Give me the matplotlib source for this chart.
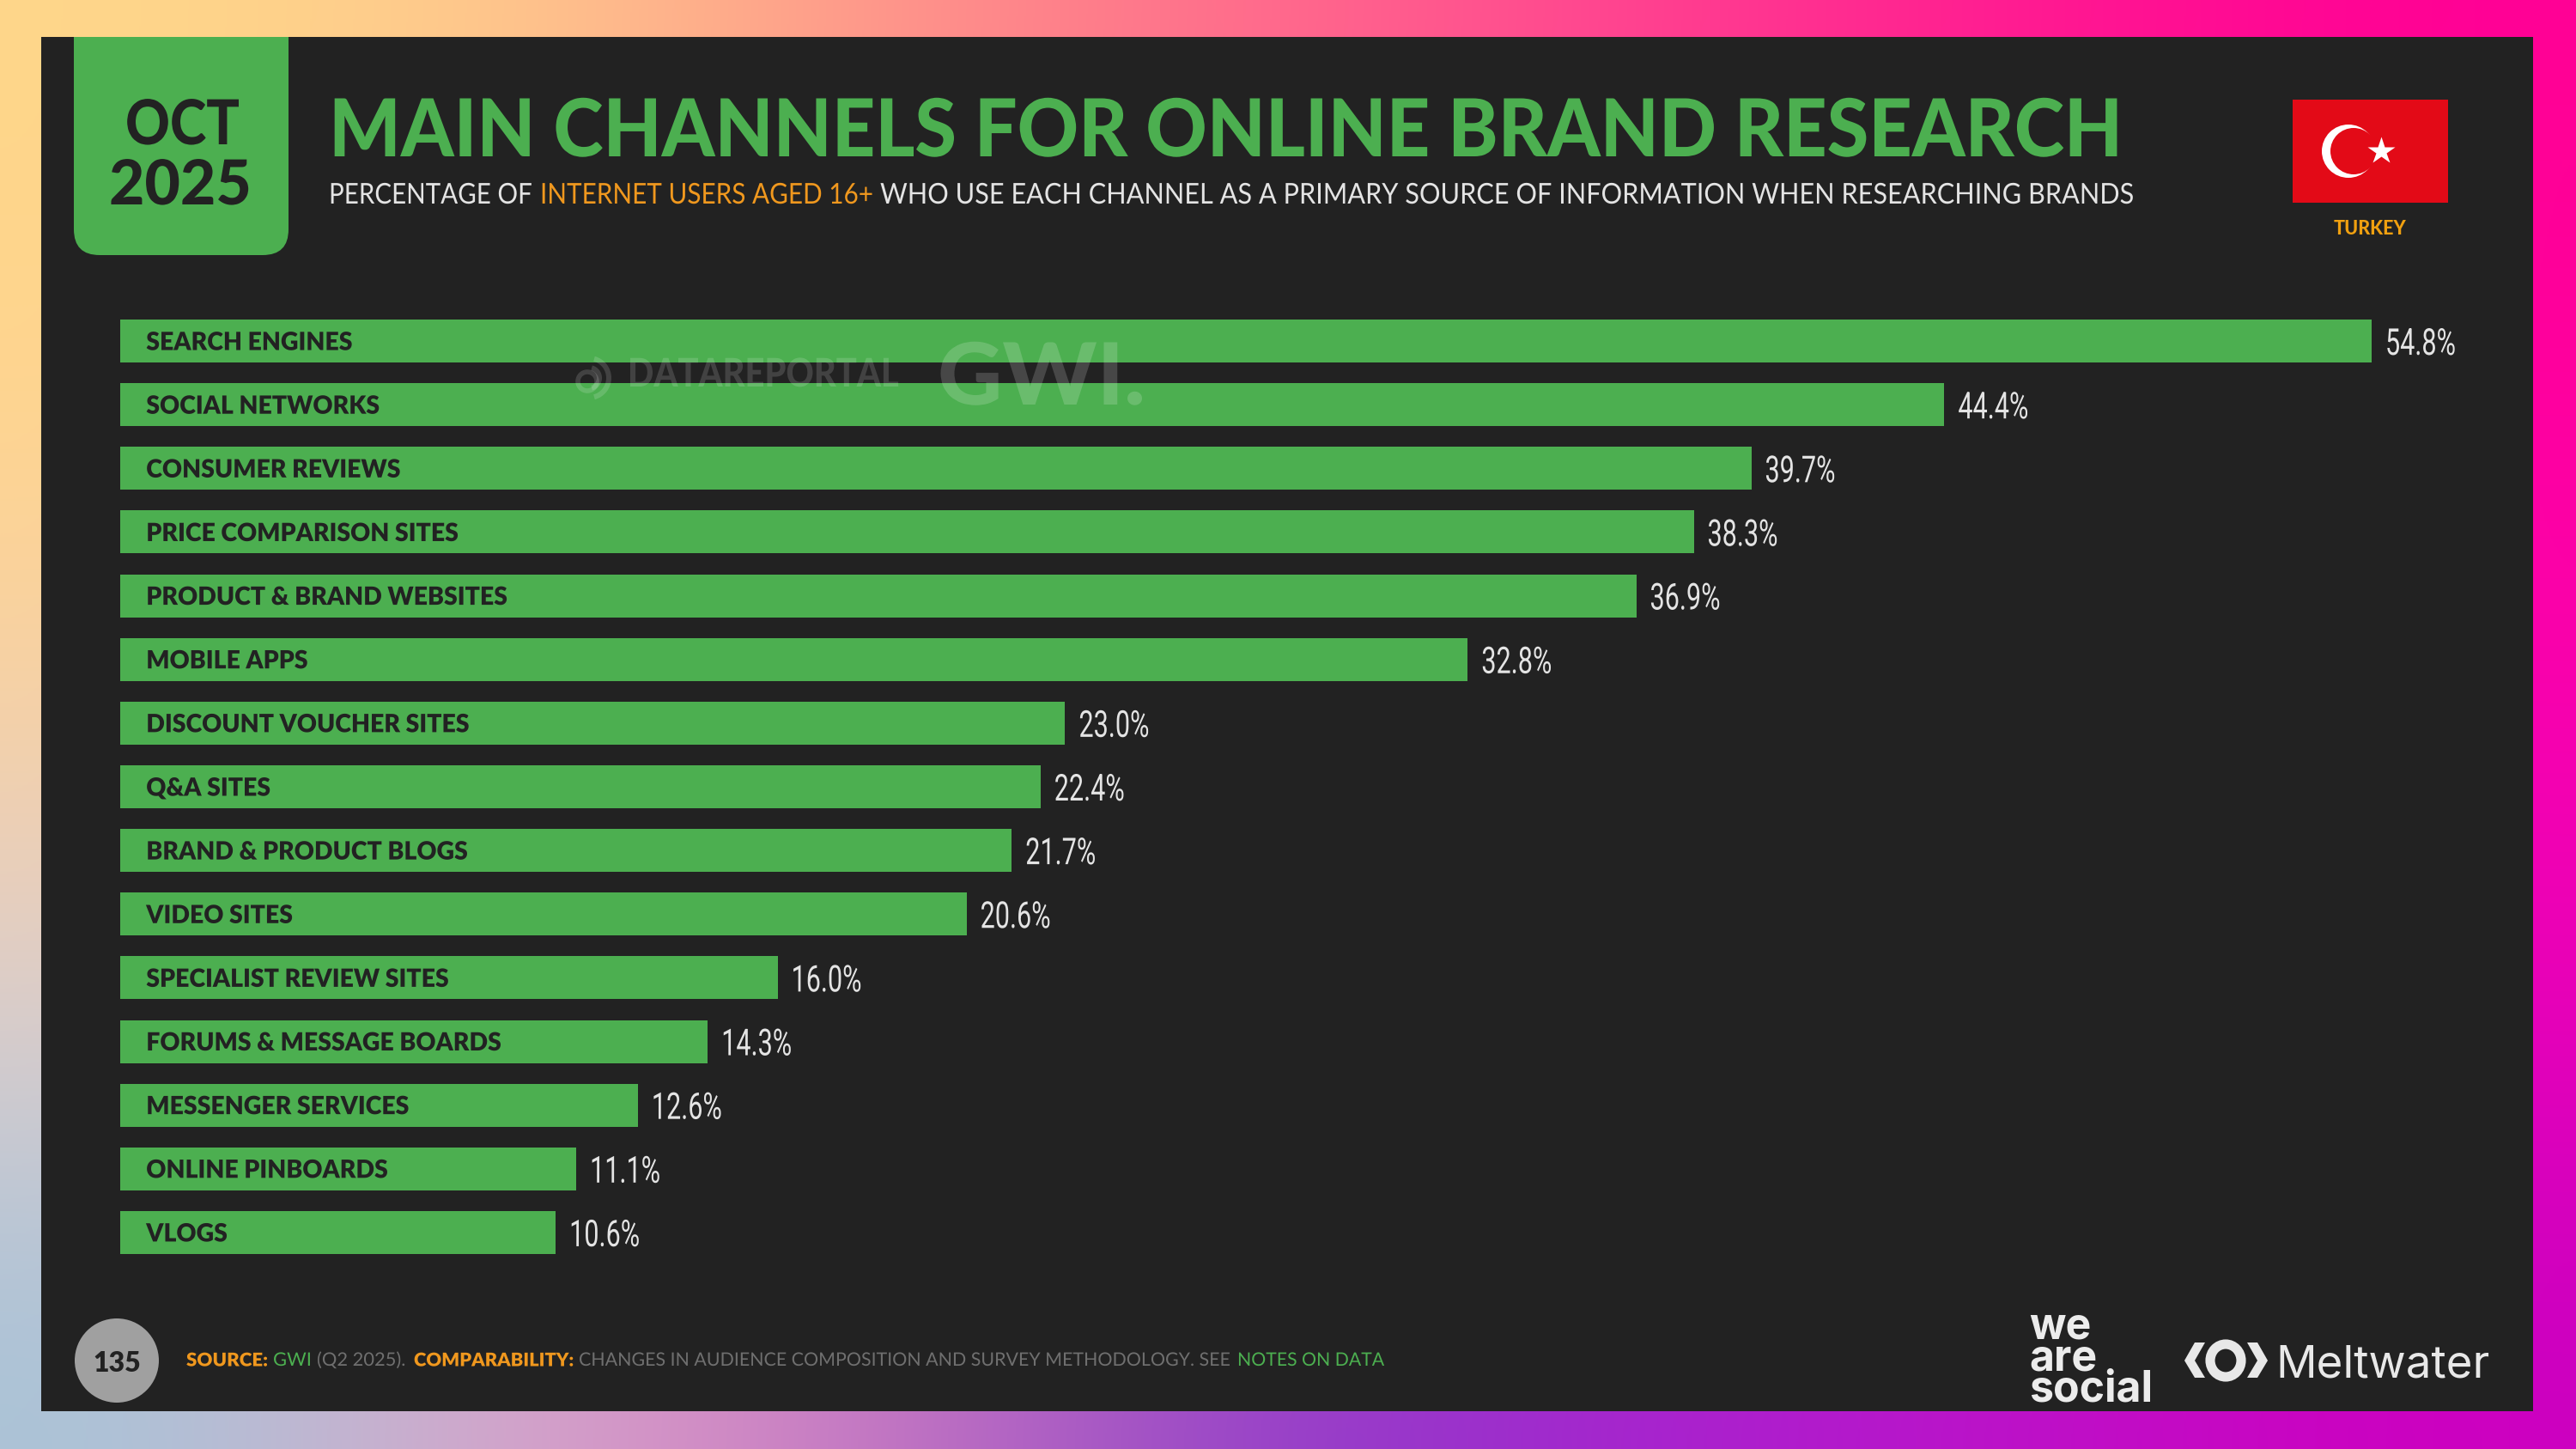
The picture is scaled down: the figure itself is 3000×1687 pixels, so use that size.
import numpy as np
import matplotlib
matplotlib.use("Agg")
import matplotlib.pyplot as plt
from matplotlib.patches import Rectangle, FancyBboxPatch, Circle, Polygon, Ellipse, Wedge
from matplotlib.colors import to_rgb
from matplotlib.patheffects import AbstractPathEffect
from matplotlib.transforms import Affine2D

channels = ["SEARCH ENGINES", "SOCIAL NETWORKS", "CONSUMER REVIEWS", "PRICE COMPARISON SITES",
            "PRODUCT & BRAND WEBSITES", "MOBILE APPS", "DISCOUNT VOUCHER SITES", "Q&A SITES",
            "BRAND & PRODUCT BLOGS", "VIDEO SITES", "SPECIALIST REVIEW SITES",
            "FORUMS & MESSAGE BOARDS", "MESSENGER SERVICES", "ONLINE PINBOARDS", "VLOGS"]
values = [54.8, 44.4, 39.7, 38.3, 36.9, 32.8, 23.0, 22.4, 21.7, 20.6, 16.0, 14.3, 12.6, 11.1, 10.6]

GREEN = "#4CAF50"; DARK = "#222222"; ORANGE = "#F0981E"; LIGHT = "#E4E4E4"; GREY = "#6F6F6F"
FONT = "Lato"
W, H = 3000, 1687


class HScale(AbstractPathEffect):
    """Squeeze a real text horizontally about a fixed pixel column."""
    def __init__(self, sx, x0):
        super().__init__()
        self.sx, self.x0 = sx, x0

    def draw_path(self, renderer, gc, tpath, affine, rgbFace=None):
        t = affine + Affine2D().translate(-self.x0, 0).scale(self.sx, 1).translate(self.x0, 0)
        renderer.draw_path(gc, tpath, t, rgbFace)


fig = plt.figure(figsize=(W/100, H/100), dpi=100)

# background gradient
bg = fig.add_axes([0, 0, 1, 1], zorder=0)
bg.set_axis_off()
grid = [["#FFD78A", "#FFC78C", "#FF9089", "#FF6A8C", "#FF4090", "#FF1A90", "#FF0095"],
        ["#FFD690", "#F8B090", "#FF7A90", "#FF5090", "#FF3098", "#FF10A0", "#FF00A0"],
        ["#F6D2A8", "#F0B0A8", "#E890A8", "#E070B0", "#E850B0", "#F020B0", "#F800B0"],
        ["#DCCFCF", "#E8B4C8", "#D898C4", "#C070C4", "#C050C8", "#D830C4", "#E800B8"],
        ["#A8C4D8", "#E0A0C8", "#C070C0", "#8A3CC8", "#A820D0", "#BC10C8", "#CC00C0"]]
g = np.array([[to_rgb(c) for c in row] for row in grid])
bg.imshow(g, extent=(0, W, H, 0), aspect="auto", interpolation="bicubic", interpolation_stage="data")
bg.set_xlim(0, W); bg.set_ylim(H, 0)
panel = Rectangle((48, 43), 2902, 1600, fc=DARK, ec="none")
bg.add_patch(panel)
box = FancyBboxPatch((116, -30), 190, 297, boxstyle="round,pad=30,rounding_size=30", fc=GREEN, ec="none")
bg.add_patch(box)
box.set_clip_path(panel)

# bars
ax = fig.add_axes([140/W, 1-1472/H, 2622/W, (1472-360)/H], zorder=1)
ax.patch.set_alpha(0)
ax.set_axis_off()
ax.set_xlim(0, 54.8)
ax.set_ylim(14.5, -0.5)
ypos = np.arange(len(channels))
ax.barh(ypos, values, height=0.675, color=GREEN, edgecolor="none")
for y, name, v in zip(ypos, channels, values):
    t = ax.annotate(name, (0, y), xytext=(21.8, 0), textcoords="offset points", va="center_baseline", ha="left",
                    fontsize=21, family=FONT, fontweight="heavy", color=DARK)
    t.set_path_effects([HScale(0.975, 170)])
    xpx = 140 + v*2622/54.8 + 16
    t = ax.annotate(f"{v:.1f}%", (v, y), xytext=(11.5, 0), textcoords="offset points", va="center_baseline", ha="left",
                    fontsize=31, family="Roboto", color=LIGHT, clip_on=False)
    t.set_path_effects([HScale(0.71, xpx)])

# overlay
fg = fig.add_axes([0, 0, 1, 1], zorder=2)
fg.patch.set_alpha(0); fg.set_axis_off()
fg.set_xlim(0, W); fg.set_ylim(H, 0)
r = fig.canvas.get_renderer()


def fit(y, s, color, x0, x1, size, weight="normal", family=FONT, alpha=None):
    """Text from pixel column x0 to x1, at a fixed height."""
    t = fg.text(x0, y, s, fontsize=size, family=family, fontweight=weight, color=color,
                va="center_baseline", ha="left", alpha=alpha)
    w = t.get_window_extent(r).width
    t.set_path_effects([HScale((x1-x0)/w, x0)])
    return t


fit(141, "OCT", DARK, 146, 279, 52, "black")
fit(211, "2025", DARK, 127, 293, 52, "black")
fit(147, "MAIN CHANNELS FOR ONLINE BRAND RESEARCH", GREEN, 383, 2472, 67, "black")
fit(225, "PERCENTAGE OF", LIGHT, 383, 620, 24)
fit(225, "INTERNET USERS AGED 16+", ORANGE, 629, 1017, 24)
fit(225, "WHO USE EACH CHANNEL AS A PRIMARY SOURCE OF INFORMATION WHEN RESEARCHING BRANDS", LIGHT, 1025, 2485, 24)

# flag
fg.add_patch(Rectangle((2670, 116), 181, 120, fc="#E30A17", ec="none"))
fg.add_patch(Circle((2735, 176), 31, fc="white", ec="none"))
fg.add_patch(Circle((2741, 176), 27, fc="#E30A17", ec="none"))
fg.plot([2773], [176], marker="*", ms=24, mfc="white", mec="none")
fg.text(2760, 264, "TURKEY", fontsize=15.5, family=FONT, fontweight="black", color="#F0A010", ha="center", va="center_baseline")

# watermark
fit(433, "DATAREPORTAL", "white", 731, 1047, 33, "black", alpha=0.15)
fit(434, "GWI.", "white", 1092, 1334, 72, "black", alpha=0.17)
for rad, lw in [(26, 6), (15, 6)]:
    fg.add_patch(Wedge((686, 440), rad, -75, 75, width=lw, fc="white", alpha=0.15, ec="none"))
fg.add_patch(Circle((684, 444), 11, fc="none", ec="white", lw=4, alpha=0.15))

# footer
fg.add_patch(Circle((136, 1584), 49, fc="#A0A0A0", ec="none"))
fg.text(136, 1585, "135", fontsize=23, family=FONT, fontweight="heavy", color=DARK, ha="center", va="center_baseline")
for s, c, wt, x0, x1 in [("SOURCE:", ORANGE, "heavy", 217, 312),
                         ("GWI", GREEN, "normal", 318, 363),
                         ("(Q2 2025).", GREY, "normal", 369, 472),
                         ("COMPARABILITY:", ORANGE, "heavy", 482, 668),
                         ("CHANGES IN AUDIENCE COMPOSITION AND SURVEY METHODOLOGY. SEE", GREY, "normal", 674, 1433),
                         ("NOTES ON DATA", GREEN, "normal", 1441, 1612)]:
    fit(1582, s, c, x0, x1, 15.5, wt)

# logos
fg.text(2363, 1632, "we\nare\nsocial", fontsize=36, family="Inter", fontweight="bold", color="#ECECEC",
        ha="left", va="baseline", linespacing=0.72)
fg.text(2650, 1603, "Meltwater", fontsize=38, family="Inter", color="#E8E8E8", ha="left", va="baseline")
fg.add_patch(Polygon([[2568, 1563], [2556, 1563], [2544, 1584], [2556, 1604], [2568, 1604], [2556, 1584]], fc="#E8E8E8", ec="none"))
fg.add_patch(Polygon([[2617, 1563], [2629, 1563], [2641, 1584], [2629, 1604], [2617, 1604], [2629, 1584]], fc="#E8E8E8", ec="none"))
fg.add_patch(Ellipse((2592, 1584), 36, 38, fc="none", ec="#E8E8E8", lw=8))

fig.savefig("out.png", dpi=100, facecolor=DARK)
